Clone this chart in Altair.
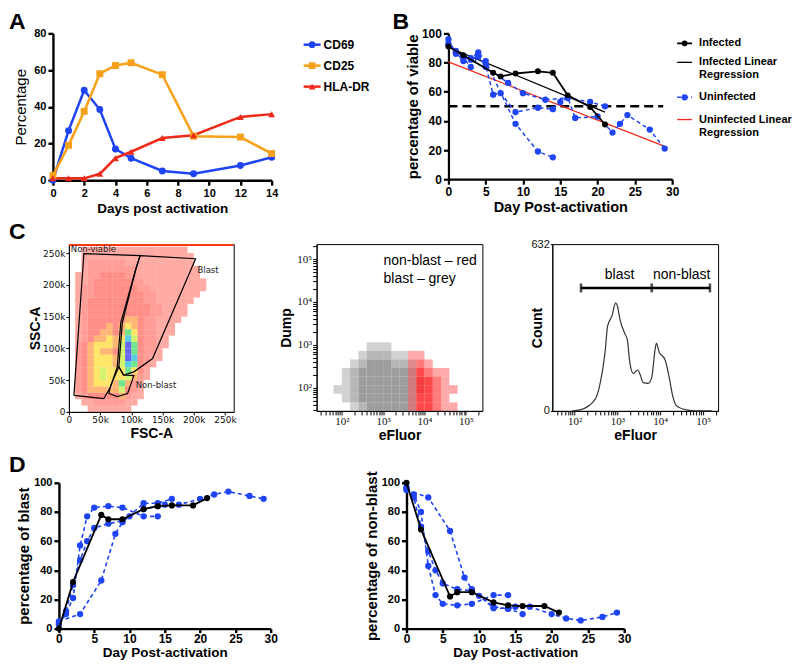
import altair as alt
import pandas as pd

FONT = "Liberation Sans"
SERIF = "Liberation Serif"
BLUE = "#1f44f5"
ORANGE = "#f7a11a"
RED = "#ee2a1b"

# ---------------- Panel A data ----------------
a_days = [0, 1, 2, 3, 4, 5, 7, 9, 12, 14]
a_cd69 = [0, 27, 49, 38.5, 17, 12, 5, 3.5, 8, 12.5]
a_cd25 = [2.5, 19, 37.5, 58, 62.5, 64, 57.5, 24, 23.5, 14.5]
a_hladr = [1, 1, 1, 3.5, 12, 15.5, 23, 24.5, 34.5, 36]
a_names = ["CD69", "CD25", "HLA-DR"]

# ---------------- Panel B data ----------------
b_inf_days = [0, 2, 6, 7, 9, 12, 14, 16, 19, 21]
b_inf_vals = [91, 85, 73, 70.5, 72.5, 74, 73, 57.5, 49.5, 37.5]
b_u1_days = [0, 1, 2, 3, 4, 5, 9, 12, 14]
b_u1_vals = [93, 87, 81, 83, 87, 81, 38, 19, 15]
b_u2_days = [0, 1, 2, 3, 4, 5, 6, 7, 9, 12, 14, 15, 16, 17, 20, 22, 23, 24, 27, 29]
b_u2_vals = [96, 86, 83, 77, 84, 78, 58, 59, 46, 49, 48, 53, 56, 42, 43, 32, 38, 44, 34, 21]
b_u3_days = [0, 1, 2, 3, 4, 5, 8, 10, 13, 16, 19, 21]
b_u3_vals = [92, 88, 84, 82, 85, 77, 66, 59, 54.5, 55.7, 53, 50]
b_infreg_days = [0, 21]
b_infreg_vals = [90.5, 46]
b_uninfreg_days = [0, 29]
b_uninfreg_vals = [80.5, 22.5]
b_cut_days = [0, 28.8]
b_cut_vals = [50, 50]

# ---------------- Panel C data ----------------
# C1: FSC-A / SSC-A density, 10k bins, rows from 255k (top) down to 5k
c1_density_rows = [
    "0011111111111111111",
    "00111111111111111111",
    "00122222211111111111",
    "001222222221111111111",
    "011223333221111111111",
    "0112333333221111111111",
    "0122333333322111111111",
    "012233333333221111111",
    "01233333333322111111",
    "0123333333333221111",
    "0123333333333221111",
    "012333333443221111",
    "01233343454322111",
    "01233443475322111",
    "0123445458632211",
    "0234555469732211",
    "023454436973221",
    "023455546983211",
    "02345554687321",
    "0234565557531",
    "0234565556421",
    "023455547421",
    "023444446321",
    "012333334211",
    "001122222110",
    "000111111100",
]
c1_gate_names = ["Non-viable", "Blast", "Non-blast"]
c1_gate_x = [
    [8, 24, 114, 107, 83, 77.5, 67, 56, 8],
    [114, 203, 134, 104, 88, 80, 85.5, 107, 114],
    [80, 87, 104, 94, 77.5, 64, 67, 80],
]
c1_gate_y = [
    [26, 249, 246, 224, 140, 71, 40, 21, 26],
    [246, 241, 84, 63, 58, 71, 140, 224, 246],
    [71, 58, 57, 29, 24, 29, 42, 71],
]
c1_label_x = [3, 206, 107]
c1_label_y = [257, 224, 43]
c1_top_x = [0, 263]
c1_top_y = [262.5, 262.5]

# C2: eFluor / Dump, log bins of 0.2 decade; rows from top (10^2.86) to bottom (10^1.46)
c2_grey_rows = [
    "000000111",
    "00000122211",
    "000012333221",
    "000123333332",
    "0001233333321",
    "0011233333321",
    "000123333332",
    "000012333332",
]
c2_red_rows = [
    "",
    "00000000000110",
    "000000000001210",
    "0000000000013211",
    "0000000000013321",
    "00000000000133211",
    "0000000000013321",
    "00000000000133211",
]

# C3: eFluor histogram (log10 position, count)
c3_log = [1.95, 2.13, 2.48, 2.60, 2.71, 2.77, 2.87, 2.96, 3.00, 3.06, 3.18, 3.23, 3.29, 3.37,
          3.47, 3.53, 3.60, 3.72, 3.80, 3.88, 3.91, 3.98, 4.05, 4.11, 4.21, 4.29, 4.38, 4.61, 4.84, 5.2]
c3_count = [0, 4, 44, 107, 220, 321, 359, 409, 397, 346, 290, 271, 183, 142,
            155, 138, 107, 104, 126, 233, 256, 220, 208, 195, 126, 57, 19, 4, 0, 0]
c3_gate_names = ["blast", "non-blast"]
c3_gate_lo = [2.15, 3.80]
c3_gate_hi = [3.80, 5.16]
c3_gate_count = 466
c3_label_log = [3.05, 4.50]
c3_label_count = 516

# ---------------- Panel D data ----------------
d_inf_days = [0, 2, 6, 7, 9, 12, 14, 16, 19, 21]
d_blast_inf = [0, 32, 78, 75, 75, 82, 84, 84.5, 84.5, 89.5]
d_nonblast_inf = [100, 68, 22, 25, 25, 18, 16, 15.5, 15.5, 11]
d_u1_days = [0, 1, 2, 3, 4, 5, 7, 9, 12, 14]
d_blast_u1 = [3, 10, 21, 57, 77, 83, 84, 83, 77, 77]
d_nonblast_u1 = [97, 92, 80, 43, 23, 17, 16, 17, 23, 23]
d_u2_days = [0, 1, 2, 3, 4, 5, 7, 9, 10, 12, 14, 15, 17, 20, 22, 24, 27, 29]
d_blast_u2 = [4, 12, 30, 47, 60, 69, 72, 74, 77, 82, 84, 85, 85, 89, 92, 94, 91, 89]
d_nonblast_u2 = [96, 90, 70, 53, 40, 31, 27, 26, 22.5, 15, 13.5, 15, 15, 10, 7, 5.6, 8, 11]
d_u3_days = [0, 3, 6, 8, 9, 12, 14, 16]
d_blast_u3 = [5, 10, 33, 65, 73, 86, 86, 89]
d_nonblast_u3 = [95, 90, 67, 35, 27, 14, 14, 10]

ONE = pd.DataFrame({"k": [0]})


def long_df(items):
    rows = []
    for name, days, vals in items:
        for d, v in zip(days, vals):
            rows.append({"series": name, "day": d, "value": v})
    return pd.DataFrame(rows)


def std_axis(title, values, lfs=11, tfs=14, tweight="bold", tpad=3, width=2.2, tick=5, lpad=2):
    return alt.Axis(title=title, values=values, grid=False, domainColor="black", domainWidth=width,
                    tickColor="black", tickWidth=width, tickSize=tick, labelPadding=lpad,
                    labelFont=FONT, labelFontSize=lfs, labelFontWeight="bold", labelColor="black",
                    labelFlush=False, labelOverlap=False, titleFont=FONT, titleFontSize=tfs,
                    titleFontWeight=tweight, titleColor="black", titlePadding=tpad)


def flow_axis(title, values, lfont, lfs, tpad=2, label_expr=None, tick=3):
    props = dict(title=title, values=values, grid=False, domainColor="black", domainWidth=1,
                 tickColor="black", tickWidth=1, tickSize=tick, labelPadding=1,
                 labelFont=lfont, labelFontSize=lfs, labelColor="#111", labelFlush=False,
                 labelOverlap=False, titleFont=FONT, titleFontSize=14, titleFontWeight="bold",
                 titleColor="black", titlePadding=tpad)
    if label_expr:
        props["labelExpr"] = label_expr
    return alt.Axis(**props)


def legend_entry(x0, x1, y, color, label, tx, fs=12, sw=2.5, dash=None, shape=None, size=45,
                 multiline=False, lh=13):
    layers = []
    rk = dict(color=color, strokeWidth=sw)
    if dash:
        rk["strokeDash"] = dash
    layers.append(alt.Chart(ONE).mark_rule(**rk).encode(x=alt.value(x0), x2=alt.value(x1), y=alt.value(y)))
    if shape:
        layers.append(alt.Chart(ONE).mark_point(shape=shape, filled=True, size=size, color=color, opacity=1)
                      .encode(x=alt.value((x0 + x1) / 2), y=alt.value(y)))
    tk = dict(align="left", font=FONT, fontSize=fs, fontWeight="bold", color="black")
    if multiline:
        tk.update(baseline="top", lineHeight=lh)
        ypos = y - 0.55 * fs
    else:
        tk.update(baseline="middle")
        ypos = y
    layers.append(alt.Chart(ONE).mark_text(**tk).encode(x=alt.value(tx), y=alt.value(ypos), text=alt.value(label)))
    return layers


def letter(ch, x, y):
    return alt.Chart(ONE).mark_text(text=ch, align="left", baseline="top", font=FONT, fontSize=23,
                                    fontWeight="bold", color="black").encode(x=alt.value(x), y=alt.value(y))


def block(y_top, y_bottom):
    # invisible block that fixes how far a row reaches up or down
    return alt.Chart(ONE).mark_rect(opacity=0).encode(
        x=alt.value(0), x2=alt.value(1), y=alt.value(y_top), y2=alt.value(y_bottom))


def spacer(w, h=1):
    return alt.Chart(ONE).mark_rect(opacity=0).encode(
        x=alt.value(0), x2=alt.value(1), y=alt.value(0), y2=alt.value(1)).properties(width=w, height=h)


# ---------------- Panel A ----------------
dfA = long_df([(n, a_days, v) for n, v in zip(a_names, [a_cd69, a_cd25, a_hladr])])
xA = alt.X("day:Q", scale=alt.Scale(domain=[0, 14], nice=False),
           axis=std_axis("Days post activation", list(range(0, 15, 2)), lfs=11, tfs=13.5, tpad=3, width=2.4))
yA = alt.Y("value:Q", scale=alt.Scale(domain=[0, 80], nice=False),
           axis=std_axis("Percentage", [0, 20, 40, 60, 80], lfs=11, tfs=15, tweight="normal", tpad=5, width=2.4))
colA = alt.Color("series:N", scale=alt.Scale(domain=a_names, range=[BLUE, ORANGE, RED]), legend=None)
shpA = alt.Shape("series:N", scale=alt.Scale(domain=a_names, range=["circle", "square", "triangle-up"]), legend=None)
A_lines = alt.Chart(dfA).mark_line(strokeWidth=2.5).encode(x=xA, y=yA, color=colA, detail="series:N")
A_pts = alt.Chart(dfA).mark_point(filled=True, size=48, opacity=1).encode(x=xA, y=yA, color=colA, shape=shpA)
A_leg = []
for i, (n, c, s) in enumerate(zip(a_names, [BLUE, ORANGE, RED], ["circle", "square", "triangle-up"])):
    A_leg += legend_entry(251, 268, 11.3 + 21 * i, c, n, tx=271, fs=12, sw=2.5, shape=s, size=45)
panelA = alt.layer(A_lines, A_pts, *A_leg, letter("A", -44, -22), block(-25, -24), block(100, 187)).properties(
    width=219, height=147)

# ---------------- Panel B ----------------
dfB_u = long_df([("U1", b_u1_days, b_u1_vals), ("U2", b_u2_days, b_u2_vals), ("U3", b_u3_days, b_u3_vals)])
dfB_i = pd.DataFrame({"day": b_inf_days, "value": b_inf_vals})
dfB_ireg = pd.DataFrame({"day": b_infreg_days, "value": b_infreg_vals})
dfB_ureg = pd.DataFrame({"day": b_uninfreg_days, "value": b_uninfreg_vals})
dfB_cut = pd.DataFrame({"day": b_cut_days, "value": b_cut_vals})
xB = alt.X("day:Q", scale=alt.Scale(domain=[0, 30], nice=False),
           axis=std_axis("Day Post-activation", list(range(0, 31, 5)), lfs=12, tfs=14.5, tpad=3))
yB = alt.Y("value:Q", scale=alt.Scale(domain=[0, 100], nice=False),
           axis=std_axis("percentage of viable", list(range(0, 101, 20)), lfs=12, tfs=15, tpad=1))
B_layers = [
    alt.Chart(dfB_cut).mark_line(color="black", strokeWidth=2.5, strokeDash=[9, 5]).encode(x=xB, y=yB),
    alt.Chart(dfB_ureg).mark_line(color=RED, strokeWidth=1.3).encode(x=xB, y=yB),
    alt.Chart(dfB_ireg).mark_line(color="black", strokeWidth=1.3).encode(x=xB, y=yB),
    alt.Chart(dfB_u).mark_line(color=BLUE, strokeWidth=1.5, strokeDash=[4, 3]).encode(x=xB, y=yB, detail="series:N"),
    alt.Chart(dfB_u).mark_circle(color=BLUE, size=40, opacity=1).encode(x=xB, y=yB),
    alt.Chart(dfB_i).mark_line(color="black", strokeWidth=1.8).encode(x=xB, y=yB),
    alt.Chart(dfB_i).mark_circle(color="black", size=35, opacity=1).encode(x=xB, y=yB),
]
B_leg = []
B_leg += legend_entry(229, 244, 10, "black", "Infected", tx=251, fs=11, sw=1.8, shape="circle", size=35)
B_leg += legend_entry(229, 244, 29, "black", ["Infected Linear", "Regression"], tx=251, fs=11, sw=1.3,
                      multiline=True, lh=13)
B_leg += legend_entry(229, 244, 64, BLUE, "Uninfected", tx=251, fs=11, sw=1.5, dash=[4, 3],
                      shape="circle", size=40)
B_leg += legend_entry(229, 244, 86.3, RED, ["Uninfected Linear", "Regression"], tx=251, fs=11, sw=1.3,
                      multiline=True, lh=13.4)
panelB = alt.layer(*B_layers, *B_leg, letter("B", -56, -22)).properties(width=224, height=146)

# ---------------- Panel C1 ----------------
c1_cells = []
nrows = len(c1_density_rows)
for i, row in enumerate(c1_density_rows):
    ylo = (nrows - 1 - i) * 10000
    for c, ch in enumerate(row):
        if ch != "0":
            c1_cells.append({"x": c * 10000, "x2": (c + 1) * 10000, "y": ylo, "y2": ylo + 10000, "lvl": ch})
dfC1 = pd.DataFrame(c1_cells)
levels = list("123456789")
lvl_colors = ["#ff2a1a", "#ff2414", "#ff1a0a", "#ff7800", "#ffd400", "#b8ec1e", "#2fd85a", "#1fb7d8", "#3c3cf0"]
lvl_opac = [0.4, 0.78, 1, 1, 1, 1, 1, 1, 1]
c1_lab = "datum.value == 0 ? '0' : format(datum.value / 1000, 'd') + 'k'"
kvals = [0, 50000, 100000, 150000, 200000, 250000]
xC1 = alt.X("x:Q", scale=alt.Scale(domain=[0, 264000], nice=False),
            axis=flow_axis("FSC-A", kvals, "DejaVu Sans", 9, tpad=2, label_expr=c1_lab))
yC1 = alt.Y("y:Q", scale=alt.Scale(domain=[0, 264000], nice=False),
            axis=flow_axis("SSC-A", kvals, "DejaVu Sans", 9, tpad=0, label_expr=c1_lab))
C1_rect = alt.Chart(dfC1).mark_rect().encode(
    x=xC1, x2="x2:Q", y=yC1, y2="y2:Q",
    color=alt.Color("lvl:O", scale=alt.Scale(domain=levels, range=lvl_colors), legend=None),
    opacity=alt.Opacity("lvl:O", scale=alt.Scale(domain=levels, range=lvl_opac), legend=None))
gate_rows = []
for g, xs, ys in zip(c1_gate_names, c1_gate_x, c1_gate_y):
    for k, (gx, gy) in enumerate(zip(xs, ys)):
        gate_rows.append({"gate": g, "ord": k, "x": gx * 1000, "y": gy * 1000})
dfGate = pd.DataFrame(gate_rows)
C1_gate = alt.Chart(dfGate).mark_line(color="black", strokeWidth=1.2).encode(
    x=xC1, y=yC1, detail="gate:N", order=alt.Order("ord:Q"))
dfTop = pd.DataFrame({"x": [v * 1000 for v in c1_top_x], "y": [v * 1000 for v in c1_top_y]})
C1_top = alt.Chart(dfTop).mark_line(color="#ff3a10", strokeWidth=2).encode(x=xC1, y=yC1)
dfGL = pd.DataFrame({"label": c1_gate_names, "x": [v * 1000 for v in c1_label_x], "y": [v * 1000 for v in c1_label_y]})
C1_text = alt.Chart(dfGL).mark_text(align="left", baseline="middle", font="DejaVu Sans", fontSize=8.5,
                                    color="#222").encode(x=xC1, y=yC1, text="label:N")
panelC1 = alt.layer(C1_rect, C1_top, C1_gate, C1_text, letter("C", -60, -23), block(100, 209)).properties(
    width=165, height=168, view=alt.ViewBackground(stroke="black", strokeWidth=1))


# ---------------- Panel C2 ----------------
def log_ticks(lo, hi):
    out = []
    for e in range(1, 6):
        for k in range(1, 10):
            v = k * 10 ** e
            if lo <= v <= hi:
                out.append(v)
    return out


pow_lab = ("abs(log(datum.value)/LN10 - round(log(datum.value)/LN10)) < 0.01 ? "
           "'10' + ['\u2070','\u00b9','\u00b2','\u00b3','\u2074','\u2075','\u2076'][round(log(datum.value)/LN10)] : ''")
c2_xdom = [10 ** 1.39, 10 ** 5.4]
c2_ydom = [10 ** 1.46, 10 ** 5.35]
c2_cells = []
for pop, rows in [("grey", c2_grey_rows), ("red", c2_red_rows)]:
    nr = len(rows)
    for i, row in enumerate(rows):
        r = nr - 1 - i
        for c, ch in enumerate(row):
            if ch != "0":
                c2_cells.append({"pop": pop, "lvl": ch,
                                 "x": 10 ** (1.4 + 0.2 * c), "x2": 10 ** (1.6 + 0.2 * c),
                                 "y": 10 ** (1.46 + 0.2 * r), "y2": 10 ** (1.66 + 0.2 * r)})
dfC2 = pd.DataFrame(c2_cells)
xC2 = alt.X("x:Q", scale=alt.Scale(type="log", domain=c2_xdom, nice=False),
            axis=flow_axis("eFluor", log_ticks(*c2_xdom), SERIF, 11, tpad=2, label_expr=pow_lab, tick=4))
yC2 = alt.Y("y:Q", scale=alt.Scale(type="log", domain=c2_ydom, nice=False),
            axis=flow_axis("Dump", log_ticks(*c2_ydom), SERIF, 11, tpad=3, label_expr=pow_lab, tick=4))
C2_rect = alt.Chart(dfC2).mark_rect().encode(
    x=xC2, x2="x2:Q", y=yC2, y2="y2:Q",
    color=alt.Color("pop:N", scale=alt.Scale(domain=["grey", "red"], range=["#7c7c7c", "#ff0c0c"]), legend=None),
    opacity=alt.Opacity("lvl:O", scale=alt.Scale(domain=["1", "2", "3"], range=[0.35, 0.75, 1]), legend=None))
C2_text = alt.Chart(ONE).mark_text(align="left", baseline="top", font=FONT, fontSize=14, lineHeight=17.5,
                                   color="black").encode(x=alt.value(67), y=alt.value(10),
                                                         text=alt.value(["non-blast \u2013 red", "blast \u2013 grey"]))
panelC2 = alt.layer(C2_rect, C2_text).properties(
    width=166, height=167, view=alt.ViewBackground(stroke="black", strokeWidth=1))

# ---------------- Panel C3 ----------------
c3_xdom = [10 ** 1.48, 10 ** 5.35]
dfC3 = pd.DataFrame({"x": [10 ** v for v in c3_log], "count": c3_count})
xC3 = alt.X("x:Q", scale=alt.Scale(type="log", domain=c3_xdom, nice=False),
            axis=flow_axis("eFluor", log_ticks(*c3_xdom), SERIF, 11, tpad=2, label_expr=pow_lab, tick=4))
yC3 = alt.Y("count:Q", scale=alt.Scale(domain=[0, 632], nice=False),
            axis=flow_axis(None, [0, 632], FONT, 11, tick=2))
C3_line = alt.Chart(dfC3).mark_line(color="#333", strokeWidth=1.2, interpolate="monotone").encode(x=xC3, y=yC3)
dfGateC3 = pd.DataFrame({"gate": c3_gate_names, "x": [10 ** v for v in c3_gate_lo],
                         "x2": [10 ** v for v in c3_gate_hi], "count": [c3_gate_count] * 2})
C3_bar = alt.Chart(dfGateC3).mark_rule(color="black", strokeWidth=2.5).encode(x=xC3, x2="x2:Q", y=yC3)
dfCaps = pd.DataFrame({"x": [10 ** c3_gate_lo[0], 10 ** c3_gate_lo[1], 10 ** c3_gate_hi[1]],
                       "count": [c3_gate_count] * 3})
C3_caps = alt.Chart(dfCaps).mark_tick(orient="vertical", size=9, thickness=2.5, color="black").encode(
    x=xC3, y=yC3)
dfC3lab = pd.DataFrame({"label": c3_gate_names, "x": [10 ** v for v in c3_label_log],
                        "count": [c3_label_count] * 2})
C3_lab = alt.Chart(dfC3lab).mark_text(font=FONT, fontSize=14, color="black", baseline="middle").encode(
    x=xC3, y=yC3, text="label:N")
C3_title = alt.Chart(ONE).mark_text(text="Count", angle=270, font=FONT, fontSize=14, fontWeight="bold",
                                    color="black", baseline="middle").encode(x=alt.value(-14), y=alt.value(84))
panelC3 = alt.layer(C3_line, C3_bar, C3_caps, C3_lab, C3_title).properties(
    width=166, height=167, view=alt.ViewBackground(stroke="black", strokeWidth=1))


# ---------------- Panel D ----------------
def panel_d(ytitle, inf_vals, u_vals, width, extra=None):
    dfu = long_df([("U1", d_u1_days, u_vals[0]), ("U2", d_u2_days, u_vals[1]), ("U3", d_u3_days, u_vals[2])])
    dfi = pd.DataFrame({"day": d_inf_days, "value": inf_vals})
    x = alt.X("day:Q", scale=alt.Scale(domain=[0, 30], nice=False),
              axis=std_axis("Day Post-activation", list(range(0, 31, 5)), lfs=12, tfs=13.5, tpad=1,
                            width=2.4, tick=4, lpad=1))
    y = alt.Y("value:Q", scale=alt.Scale(domain=[0, 100], nice=False),
              axis=std_axis(ytitle, list(range(0, 101, 20)), lfs=11, tfs=15, tpad=2, width=2.4))
    layers = [
        alt.Chart(dfu).mark_line(color=BLUE, strokeWidth=1.6, strokeDash=[4, 3]).encode(x=x, y=y, detail="series:N"),
        alt.Chart(dfu).mark_circle(color=BLUE, size=40, opacity=1).encode(x=x, y=y),
        alt.Chart(dfi).mark_line(color="black", strokeWidth=1.8).encode(x=x, y=y),
        alt.Chart(dfi).mark_circle(color="black", size=38, opacity=1).encode(x=x, y=y),
    ]
    if extra is not None:
        layers.append(extra)
    return alt.layer(*layers).properties(width=width, height=146)


panelD1 = panel_d("percentage of blast", d_blast_inf, [d_blast_u1, d_blast_u2, d_blast_u3], 212,
                  letter("D", -50, -29))
panelD2 = panel_d("percentage of non-blast", d_nonblast_inf, [d_nonblast_u1, d_nonblast_u2, d_nonblast_u3], 218)

RES = dict(color="independent", opacity="independent", shape="independent")
row1 = alt.hconcat(panelA, spacer(177), panelB, spacing=0, bounds="flush").resolve_scale(**RES)
row2 = alt.hconcat(spacer(16), panelC1, spacer(83), panelC2, spacer(70), panelC3,
                   spacing=0, bounds="flush").resolve_scale(**RES)
row3 = alt.hconcat(spacer(6), panelD1, spacer(136), panelD2, spacing=0, bounds="flush").resolve_scale(**RES)

chart = (alt.vconcat(row1, row2, row3, spacing=0, bounds="full")
         .resolve_scale(**RES)
         .properties(padding=0)
         .configure_view(stroke=None))

chart.save("out.html", embed_options={"renderer": "svg", "actions": False})
